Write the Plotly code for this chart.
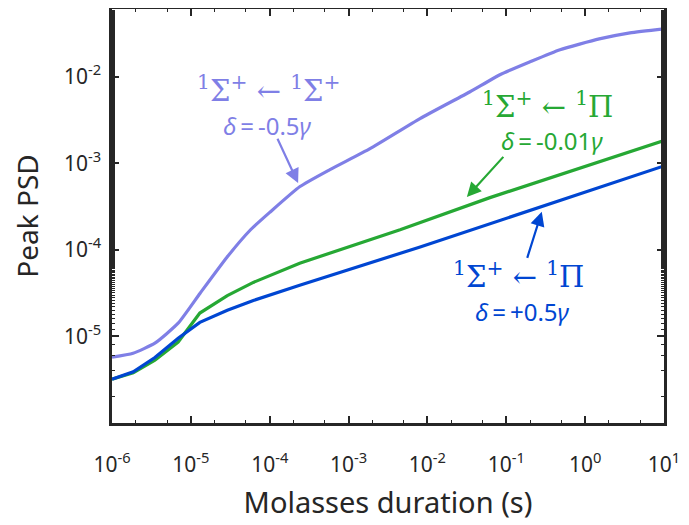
import plotly.graph_objects as go

# ---- data ----
purple_x = [1e-6, 1.85e-6, 3.5e-6, 6.9e-6, 1.31e-5, 2.87e-5, 5.6e-5, 1.0e-4, 2.42e-4, 5.8e-4,
            1.87e-3, 8.05e-3, 3.47e-2, 8.3e-2, 0.20, 0.48, 1.51, 3.7, 10]
purple_y = [5.75e-6, 6.4e-6, 8.35e-6, 1.42e-5, 3.15e-5, 8.2e-5, 1.67e-4, 2.70e-4, 5.37e-4, 8.43e-4,
            1.47e-3, 3.27e-3, 6.68e-3, 1.05e-2, 1.48e-2, 2.04e-2, 2.72e-2, 3.2e-2, 3.56e-2]

green_x = [1e-6, 1.86e-6, 3.5e-6, 6.9e-6, 1.3e-5, 2.9e-5, 6.2e-5, 2.4e-4, 4.5e-3, 6.2e-2, 10]
green_y = [3.2e-6, 3.8e-6, 5.3e-6, 8.6e-6, 1.86e-5, 2.95e-5, 4.2e-5, 7.0e-5, 1.7e-4, 4.0e-4, 1.82e-3]

blue_x = [1e-6, 1.86e-6, 3.5e-6, 6.9e-6, 1.3e-5, 2.9e-5, 6.2e-5, 2.4e-4, 7.9e-3, 0.48, 10]
blue_y = [3.2e-6, 3.9e-6, 5.7e-6, 9.5e-6, 1.45e-5, 2.0e-5, 2.6e-5, 3.9e-5, 1.07e-4, 3.7e-4, 9.3e-4]

x_tickvals = [1e-6, 1e-5, 1e-4, 1e-3, 1e-2, 1e-1, 1e0, 1e1]
x_ticktext = ["10<sup>-6</sup>", "10<sup>-5</sup>", "10<sup>-4</sup>", "10<sup>-3</sup>",
              "10<sup>-2</sup>", "10<sup>-1</sup>", "10<sup>0</sup>", "10<sup>1</sup>"]
y_tickvals = [1e-5, 1e-4, 1e-3, 1e-2]
y_ticktext = ["10<sup>-5</sup>", "10<sup>-4</sup>", "10<sup>-3</sup>", "10<sup>-2</sup>"]

PURPLE = "#7F7FE6"
GREEN = "#26A834"
BLUE = "#0046D2"
AX = "#262626"
SANS = "Noto Sans"
SERIF = "DejaVu Serif"

fig = go.Figure()
fig.add_trace(go.Scatter(x=purple_x, y=purple_y, mode="lines",
                         line=dict(color=PURPLE, width=3.2, shape="spline", smoothing=0.5),
                         showlegend=False))
fig.add_trace(go.Scatter(x=green_x, y=green_y, mode="lines",
                         line=dict(color=GREEN, width=3.2), showlegend=False))
fig.add_trace(go.Scatter(x=blue_x, y=blue_y, mode="lines",
                         line=dict(color=BLUE, width=3.2), showlegend=False))

axis_common = dict(
    type="log", showline=True, linewidth=2.5, linecolor=AX, mirror="allticks",
    ticks="inside", ticklen=7, tickwidth=1.5, tickcolor=AX,
    showgrid=False, zeroline=False, automargin=False,
    tickfont=dict(family=SANS, size=21, color=AX),
    minor=dict(ticks="inside", ticklen=3.5, tickwidth=1, tickcolor=AX, showgrid=False),
)

fig.update_xaxes(range=[-6, 1], tickmode="array", tickvals=x_tickvals, ticktext=x_ticktext,
                 ticklabelstandoff=21,
                 title=dict(text="Molasses duration (s)", font=dict(family=SANS, size=29, color=AX),
                            standoff=16),
                 **axis_common)
fig.update_yaxes(range=[-6, -1.22], tickmode="array", tickvals=y_tickvals, ticktext=y_ticktext,
                 ticklabelstandoff=4,
                 title=dict(text="Peak PSD", font=dict(family=SANS, size=28, color=AX), standoff=33),
                 **axis_common)

ann = []


def label(x, y, text, color, family, size):
    ann.append(dict(x=x, y=y, xref="x", yref="y", text=text, showarrow=False,
                    font=dict(family=family, size=size, color=color),
                    xanchor="center", yanchor="middle"))


TS = "\u2009"
label(-4.01, -2.14, "<sup>1</sup>Σ<sup>+</sup> ← <sup>1</sup>Σ<sup>+</sup>", PURPLE, SERIF, 29)
label(-4.03, -2.56, f"<i>δ</i>{TS}={TS}-0.5<i>γ</i>", PURPLE, SANS, 24)
label(-0.48, -2.33, "<sup>1</sup>Σ<sup>+</sup> ← <sup>1</sup>Π", GREEN, SERIF, 29)
label(-0.42, -2.74, f"<i>δ</i>{TS}={TS}-0.01<i>γ</i>", GREEN, SANS, 24)
label(-0.85, -4.29, "<sup>1</sup>Σ<sup>+</sup> ← <sup>1</sup>Π", BLUE, SERIF, 29)
label(-0.79, -4.71, f"<i>δ</i>{TS}={TS}+0.5<i>γ</i>", BLUE, SANS, 24)


def arrow(hx, hy, tx, ty, color):
    ann.append(dict(x=hx, y=hy, ax=tx, ay=ty, xref="x", yref="y", axref="x", ayref="y",
                    text="", showarrow=True, arrowhead=2, arrowsize=1.3, arrowwidth=2.2,
                    arrowcolor=color))


arrow(-3.64, -3.23, -3.91, -2.70, PURPLE)
arrow(-1.50, -3.39, -1.02, -2.91, GREEN)
arrow(-0.55, -3.56, -0.74, -4.11, BLUE)

# page body has an 8px margin: size and margins compensate for it
fig.update_layout(
    width=681, height=517,
    margin=dict(l=104, r=25, t=1, b=102),
    paper_bgcolor="white", plot_bgcolor="white",
    annotations=ann,
)

fig.write_html("out.html")
